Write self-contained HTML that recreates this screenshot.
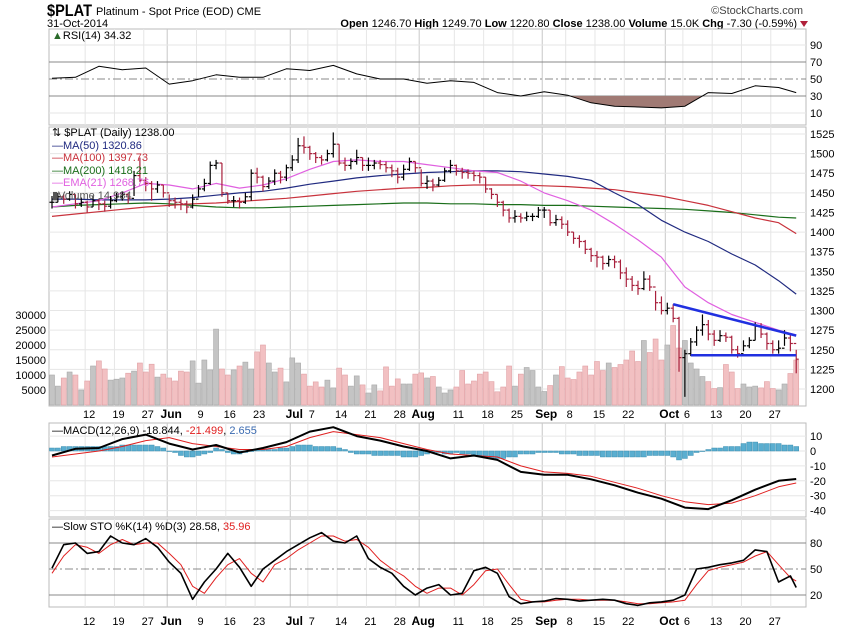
<!DOCTYPE html>
<html><head><meta charset="utf-8">
<style>
html,body{margin:0;padding:0;background:#fff;}
svg{display:block;font-family:"Liberation Sans",sans-serif;}
</style></head>
<body>
<svg id="chart" width="850" height="633" viewBox="0 0 850 633" xmlns="http://www.w3.org/2000/svg">
<rect x="0" y="0" width="850" height="633" fill="#fff"/>
<g>
<text x="47" y="16" font-size="17" font-weight="bold" fill="#000" textLength="45" lengthAdjust="spacingAndGlyphs">$PLAT</text>
<text x="96" y="15" font-size="11" fill="#000">Platinum  - Spot Price (EOD)  CME</text>
<text x="47" y="27" font-size="11" fill="#000">31-Oct-2014</text>
<text x="803" y="14" font-size="11" fill="#444" text-anchor="end">©StockCharts.com</text>
<text x="797" y="27" font-size="11" fill="#000" text-anchor="end"><tspan font-weight="bold">Open</tspan> 1246.70 <tspan font-weight="bold">High</tspan> 1249.70 <tspan font-weight="bold">Low</tspan> 1220.80 <tspan font-weight="bold">Close</tspan> 1238.00 <tspan font-weight="bold">Volume</tspan> 15.0K <tspan font-weight="bold">Chg</tspan> -7.30 (-0.59%)</text>
<polygon points="800,21 808,21 804,27" fill="#b0203a"/>
</g>
<g id="grid"></g>
<g id="marks"></g>
<g id="labels"></g>
</svg>
<script>
// ---- data ----
const weekIdx = [6,11,16,20,25,30,35,41,44,49,54,59,63,69,74,79,84,88,93,98,105,108,113,118,123];
const weekLabels = ["12","19","27","Jun","9","16","23","Jul","7","14","21","28","Aug","11","18","25","Sep","8","15","22","Oct","6","13","20","27"];
const monthIdx = [20,41,63,84,105];
const closes = [1438,1445,1442,1448,1436,1438, 1432,1440,1436,1433,1440, 1445,1448,1443,1472,1466, 1462,1455,1460,1450, 1440,1438,1436,1432,1442, 1455,1462,1485,1488,1450, 1440,1440,1438,1445,1475, 1470,1458,1465,1475,1470, 1482,1492,1510,1508, 1500,1495,1492,1500,1512, 1488,1485,1490,1495,1485, 1485,1488,1486,1482,1478, 1470,1480,1490,1482,1462, 1465,1460,1466,1478,1485, 1478,1476,1475,1472,1470, 1455,1448,1438,1428,1418, 1420,1418,1420,1420,1428, 1428,1412,1416,1410, 1400,1392,1388,1378,1370, 1368,1360,1365,1362,1348, 1340,1332,1328,1340,1330, 1310,1300,1303,1290,1240, 1245,1260,1275,1282,1270, 1262,1268,1266,1250,1245, 1255,1262,1280,1270,1258, 1250,1252,1265,1258,1238];
const highs = [1446,1450,1448,1452,1448,1444, 1440,1446,1442,1440,1446, 1450,1452,1450,1478,1495, 1470,1465,1465,1460, 1448,1444,1442,1440,1448, 1460,1468,1490,1492,1488, 1450,1446,1444,1450,1480, 1482,1472,1470,1480,1478, 1486,1498,1520,1522, 1510,1502,1498,1505,1527, 1512,1495,1494,1505,1495, 1495,1492,1492,1490,1486, 1482,1486,1495,1490,1480, 1472,1468,1470,1482,1492, 1486,1482,1480,1478,1476, 1470,1456,1448,1440,1430, 1428,1424,1426,1424,1432, 1432,1428,1422,1420, 1415,1400,1396,1390,1380, 1376,1370,1370,1370,1365, 1355,1344,1338,1350,1345, 1325,1318,1310,1308,1292, 1250,1265,1280,1295,1288, 1275,1275,1272,1268,1255, 1262,1266,1285,1284,1272, 1262,1262,1275,1270,1250];
const lows = [1430,1438,1436,1440,1430,1432, 1425,1432,1428,1426,1430, 1438,1440,1436,1446,1464, 1452,1440,1450,1444, 1432,1430,1428,1424,1430, 1445,1452,1460,1480,1445, 1436,1432,1430,1436,1440, 1462,1452,1455,1460,1462, 1465,1478,1488,1500, 1492,1488,1486,1490,1495, 1485,1478,1480,1486,1478, 1478,1480,1480,1476,1470, 1462,1466,1478,1476,1458, 1455,1452,1458,1464,1475, 1472,1468,1468,1465,1462, 1450,1442,1432,1420,1412, 1412,1412,1414,1414,1418, 1418,1408,1408,1404, 1395,1385,1380,1372,1362, 1355,1352,1356,1354,1340, 1330,1325,1320,1326,1325, 1300,1295,1295,1285,1222, 1190,1242,1255,1268,1262, 1255,1260,1260,1245,1240, 1248,1252,1262,1265,1250, 1245,1245,1255,1248,1220];
const volumes = [10,6.3,9,11,10,5,8,13,14.7,12,8.3,8.6,9,10.6,11.3,14,11,13.6,9.3,10.3, 9,8,11.3,11,14.7,7.3,15,11.7,25.3,12,10,11.7,13,14.3,12,17.7,20,14,11,12.3, 7.7,15.7,14,10.3,6.3,7.7,6,8.3,5.7,12.3,10,6.3,9.7,6.7,4,6.7,4.7,12.7,6.3,8.7,7,7,10.3,10.7, 9,9.5,6,4,5,6,11.5,7,8,10.3, 11,7.8,4.4,6,13,6.3,10.3,12.5,11.5,6, 4.5,6.5,10,12.8,9,8.5,11,13,10,14.5, 11.5,14,12.5,13.5,15,18,14.5,21.5,17.5,22, 15,20,26.5,19,21.5,14,12,9.5,7.8,5.5, 5.8,13.5,11,5.5,7,6,6.3,5.7,7.8,5.5, 5,7,10.5,15];
// indicator series sampled every 4 trading days (last point = final bar)
const ma50 = [1442,1442,1441,1441,1441,1442,1444,1447,1450,1452,1456,1461,1465,1469,1472,1474,1476,1477,1478,1478,1477,1474,1471,1466,1450,1435,1415,1400,1388,1372,1358,1338,1321];
const ma100 = [1420,1423,1426,1429,1432,1434,1436,1437,1439,1441,1443,1446,1449,1452,1454,1456,1457,1459,1460,1460,1460,1459,1458,1456,1454,1450,1446,1440,1434,1426,1418,1412,1398];
const ma200 = [1432,1434,1435,1436,1437,1436,1434,1432,1431,1431,1432,1433,1434,1435,1436,1437,1437,1436,1436,1435,1435,1434,1434,1433,1432,1431,1430,1429,1427,1425,1422,1419,1418];
const ema21 = [1432,1436,1440,1450,1462,1460,1455,1462,1456,1460,1468,1480,1490,1492,1490,1490,1486,1482,1478,1476,1465,1450,1440,1428,1410,1390,1368,1330,1310,1295,1285,1275,1269];
const rsi = [51,52,65,61,63,44,48,55,52,52,62,60,66,56,50,50,45,48,46,34,30,35,31,22,18,17,16,18,34,33,42,40,34];
const macd = [-3,1.5,2,8,11,5,1,4,-1,2,6,13,16,10,7,3,0,-5,-3,-6,-14,-16,-16,-19,-23,-28,-32,-38,-39,-33,-26,-20,-18.8];
const signal = [-4,-2,0,3,7,9,5,3,1,1,3,9,13,11,9,5,1,-2,-3,-4,-10,-14,-15,-17,-21,-25,-30,-34,-36,-35,-30,-24,-21.5];
const hist = [2,2,3,3,3,3,3,3,3,3,3,3,4,4,4,4,4,4,3,2, 0,-1,-3,-4,-4,-3,-2,-1, 2,1,-1,-2,-2, -1,0,1,1,1,1,2,2, 3,4,4,4,3,3,3,3,2,1,-1,-2, -2,-2,-3,-3,-3,-3,-3,-4,-4,-4,-3,-2,-1,-1, -2,-2,-1,-2,-2,-3,-3, -4,-5,-5,-5,-4,-4, -2,-2,-2,-1,-1,-1,-1,-2,-2,-2,-3,-3,-3,-3,-4,-4,-4,-4,-4,-4,-4,-4,-3,-3,-3,-3,-4,-6,-5,-3,-1,0,1,2,2,3,3,3,5,6,6,5,5,5,5,4,4,3];
// stochastics sampled every 2 trading days (last point = final bar)
const stoK = [51,78,80,68,70,88,80,78,85,75,58,45,15,35,50,68,52,30,50,60,70,78,86,92,82,80,88,62,52,45,30,20,28,32,20,22,48,52,45,18,10,12,13,16,15,13,14,15,14,10,8,11,12,14,20,50,52,55,57,60,72,70,35,42,28.6];
const stoD = [45,65,78,75,68,78,84,78,80,80,68,55,30,22,40,55,62,45,35,55,62,72,80,88,88,82,84,75,60,50,42,30,22,28,28,20,32,48,50,32,15,12,12,14,15,15,14,14,14,12,10,10,11,12,14,32,48,52,55,58,65,70,55,40,36];
const priceTicks = [1200,1225,1250,1275,1300,1325,1350,1375,1400,1425,1450,1475,1500,1525];
const volTicks = [5000,10000,15000,20000,25000,30000];
const rsiTicks = [10,30,50,70,90];
const macdTicks = [10,0,-10,-20,-30,-40];
const stoTicks = [20,50,80];
const trendTop = [[106,1308],[127,1268]];
const trendBottom = [[109,1243],[127,1243]];

// ---- axes ----
const NS = "http://www.w3.org/2000/svg";
const L = 49, R = 806;
const X = i => 52 + i * 5.86;
const sampleIdx = (k, step) => Math.min(k * step, closes.length - 1);
const yPrice = p => 389 - (p - 1200) * 0.7846;
const yVol = v => 405 - v * 3;
const yRsi = v => 96 - (v - 30) * 0.85;
const yMacd = v => 451 - v * 1.49;
const ySto = v => 595 - (v - 20) * 0.867;
const panels = [
  {name:"rsi-panel", top:29, bot:125},
  {name:"price-panel", top:127, bot:406},
  {name:"macd-panel", top:423, bot:517},
  {name:"sto-panel", top:519, bot:607}
];
const G = document.getElementById("grid"), M = document.getElementById("marks"), T = document.getElementById("labels");
function mk(tag, attrs, parent) {
  const e = document.createElementNS(NS, tag);
  for (const k in attrs) e.setAttribute(k, attrs[k]);
  parent.appendChild(e);
  return e;
}
function txt(s, x, y, parent, extra) {
  const e = mk("text", Object.assign({x:x, y:y, "font-size":11, fill:"#000"}, extra || {}), parent);
  e.textContent = s;
  return e;
}
panels.forEach(p => {
  const r = mk("rect", {x:L, y:p.top, width:R-L, height:p.bot-p.top, fill:"#fff", stroke:"#bbb"}, G);
  
  
  weekIdx.forEach(i => {
    const isMonth = monthIdx.indexOf(i) >= 0;
    const ln = mk("line", {x1:X(i)-2, x2:X(i)-2, y1:p.top, y2:p.bot, stroke:isMonth ? "#c8c8c8" : "#e6e6e6", "stroke-width":1}, G);
    
    
  });
});
priceTicks.forEach(p => {
  const ln = mk("line", {x1:L, x2:R, y1:yPrice(p), y2:yPrice(p), stroke:"#e6e6e6"}, G);
  
  
  const t = txt(String(p), 810, yPrice(p) + 4, T);
  
  
});
volTicks.forEach(v => {
  const t = txt(String(v), 46, yVol(v/1000) + 4, T, {"text-anchor":"end"});
  
  
});
rsiTicks.forEach(v => {
  const strong = (v === 30 || v === 70 || v === 50);
  const ln = mk("line", {x1:L, x2:R, y1:yRsi(v), y2:yRsi(v), stroke: strong ? "#888" : "#e6e6e6", "stroke-dasharray": v===50 ? "8,3,2,3" : "none"}, G);
  
  
  const t = txt(String(v), 810, yRsi(v) + 4, T);
  
  
});
macdTicks.forEach(v => {
  const ln = mk("line", {x1:L, x2:R, y1:yMacd(v), y2:yMacd(v), stroke:"#e6e6e6"}, G);
  
  
  const t = txt(String(v), 810, yMacd(v) + 4, T);
  
  
});
stoTicks.forEach(v => {
  const ln = mk("line", {x1:L, x2:R, y1:ySto(v), y2:ySto(v), stroke:"#888", "stroke-dasharray": v===50 ? "8,3,2,3" : "none"}, G);
  
  
  const t = txt(String(v), 810, ySto(v) + 4, T);
  
  
});
[418, 625].forEach(yy => {
  weekIdx.forEach((i, k) => {
    const isMonth = monthIdx.indexOf(i) >= 0;
    const t = txt(weekLabels[k], X(i) + 2, yy, T, {"text-anchor":"middle", "font-weight": isMonth ? "bold" : "normal", "font-size": isMonth ? 12 : 11});
    
    
  });
});
volumes.forEach((v, i) => {
  const up = i === 0 || closes[i] >= closes[i-1];
  const b = mk("rect", {x:X(i)-2.5, y:yVol(v), width:5, height:405-yVol(v), fill: up ? "#c4c4c4" : "#f2c0c2", stroke: up ? "#a8a8a8" : "#e0a0a4", "stroke-width":0.6}, M);
  
  
});
function poly(arr, yf, color, w, name, step) {
  const st = step || 4;
  const pts = arr.map((v, k) => X(sampleIdx(k, st)).toFixed(1) + "," + yf(v).toFixed(1)).join(" ");
  const e = mk("polyline", {points:pts, fill:"none", stroke:color, "stroke-width":w, "stroke-linejoin":"round"}, M);
  
  
  return e;
}
poly(ma200, yPrice, "#1a6e1a", 1.2, "ma200-line");
poly(ma100, yPrice, "#c8323c", 1.2, "ma100-line");
poly(ma50, yPrice, "#202a80", 1.2, "ma50-line");
poly(ema21, yPrice, "#e060e0", 1.2, "ema21-line");
closes.forEach((c, i) => {
  const o = i === 0 ? c : closes[i-1];
  const up = i === 0 || c >= closes[i-1];
  const col = up ? "#000" : "#a8203c";
  const g = mk("g", {stroke:col, "stroke-width":1.2}, M);
  
  
  mk("line", {x1:X(i), x2:X(i), y1:yPrice(highs[i]), y2:yPrice(lows[i])}, g);
  mk("line", {x1:X(i)-2.5, x2:X(i), y1:yPrice(o), y2:yPrice(o)}, g);
  mk("line", {x1:X(i), x2:X(i)+2.5, y1:yPrice(c), y2:yPrice(c)}, g);
});
[[trendTop,"upper-trendline"],[trendBottom,"lower-trendline"]].forEach(([t, n]) => {
  const ln = mk("line", {x1:X(t[0][0]), y1:yPrice(t[0][1]), x2:X(t[1][0]), y2:yPrice(t[1][1]), stroke:"#2030e0", "stroke-width":2.5}, M);
  
  
});
const clip = mk("clipPath", {id:"below30"}, M);
mk("rect", {x:L, y:yRsi(30), width:R-L, height:125-yRsi(30)}, clip);
const fillPts = rsi.map((v, k) => X(sampleIdx(k, 4)).toFixed(1) + "," + yRsi(v).toFixed(1));
fillPts.push(X(closes.length-1) + "," + yRsi(30), X(0) + "," + yRsi(30));
const rf = mk("polygon", {points:fillPts.join(" "), fill:"#a07a74", "clip-path":"url(#below30)"}, M);


poly(rsi, yRsi, "#000", 1, "rsi-line");
hist.forEach((h, i) => {
  const y0 = yMacd(0), y1 = yMacd(h);
  const b = mk("rect", {x:X(i)-2.5, y:Math.min(y0,y1), width:5, height:Math.max(Math.abs(y1-y0),0.5), fill:"#5aaed0", stroke:"#3a8eb0", "stroke-width":0.5}, M);
  
  
});
poly(signal, yMacd, "#e02020", 1, "macd-signal-line");
poly(macd, yMacd, "#000", 2, "macd-line");
poly(stoD, ySto, "#e02020", 1, "sto-d-line", 2);
poly(stoK, ySto, "#000", 1.6, "sto-k-line", 2);
</script>
<div style="position:absolute;left:0;top:0;width:850px;height:633px;pointer-events:none;font-family:'Liberation Sans',sans-serif;font-size:11px;">
  <div style="position:absolute;left:52px;top:30px;"><span style="color:#2a6a2a">&#9650;</span>RSI(14) 34.32</div>
  <div style="position:absolute;left:52px;top:127px;line-height:12.5px;">
    <div>&#8645; $PLAT (Daily) 1238.00</div>
    <div style="color:#202a80">&#8212;MA(50) 1320.86</div>
    <div style="color:#c8323c">&#8212;MA(100) 1397.73</div>
    <div style="color:#1a6e1a">&#8212;MA(200) 1418.21</div>
    <div style="color:#e060e0">&#8212;EMA(21) 1268.76</div>
    <div style="color:#555">▮Volume 14,984</div>
  </div>
  <div style="position:absolute;left:52px;top:425px;">&#8212;MACD(12,26,9) -18.844, <span style="color:#e02020">-21.499</span>, <span style="color:#3a6ab0">2.655</span></div>
  <div style="position:absolute;left:52px;top:521px;">&#8212;Slow STO %K(14) %D(3) 28.58, <span style="color:#e02020">35.96</span></div>
</div>
</body></html>
